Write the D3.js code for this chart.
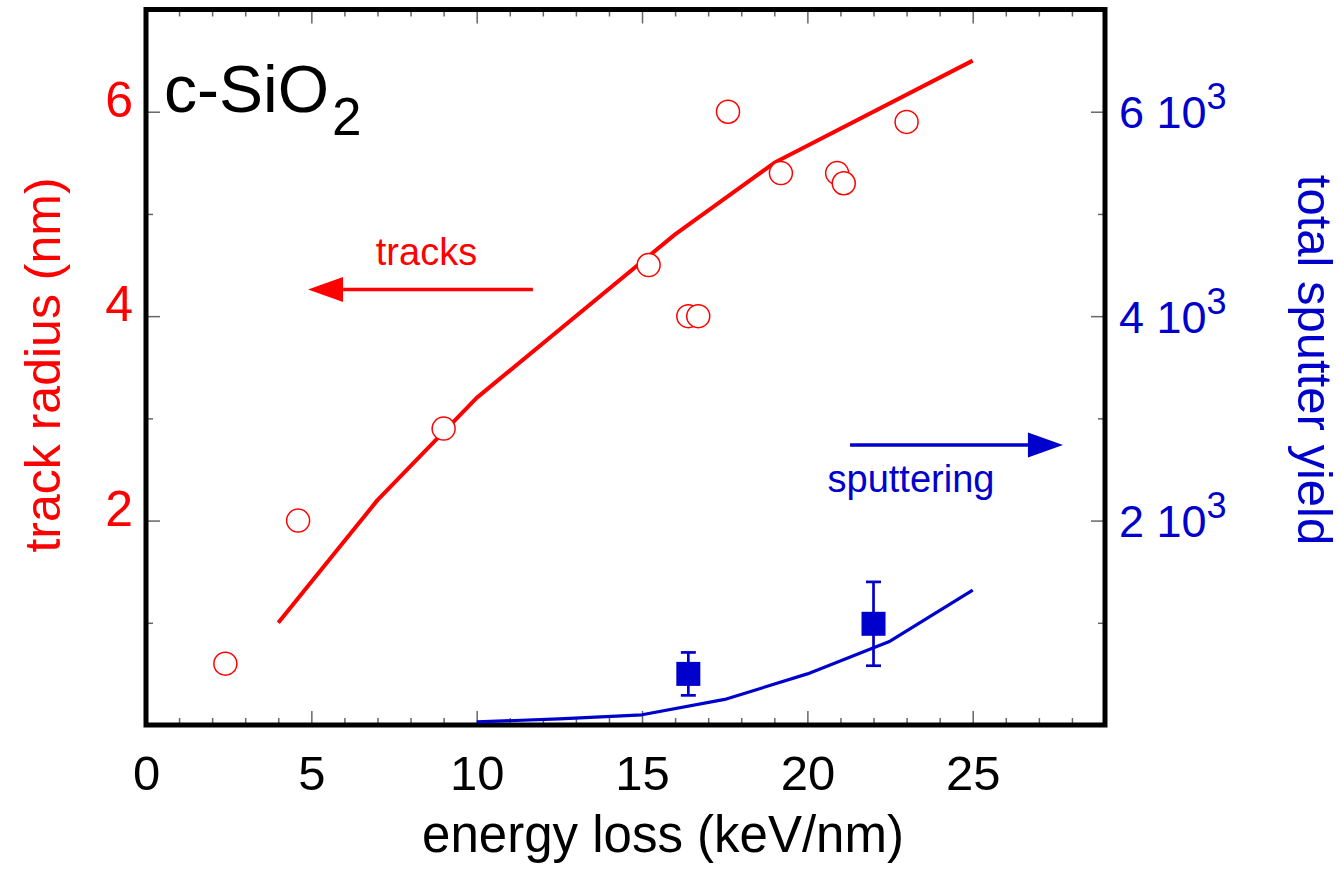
<!DOCTYPE html>
<html>
<head>
<meta charset="utf-8">
<script src="https://cdn.jsdelivr.net/npm/d3@7"></script>
<style>
  html, body { margin: 0; padding: 0; background: #fff; }
  svg { display: block; font-family: "Liberation Sans", Arial, Helvetica, sans-serif; }
  .tick line { stroke: #666; stroke-width: 1.5; }
  .domain { display: none; }
</style>
</head>
<body>
<svg id="chart" width="1341" height="869"></svg>
<script>
// Track radius measurements (energy loss keV/nm, radius nm)
const trackLoss   = [2.4, 4.6, 9.0, 15.2, 16.4, 16.7, 17.6, 19.2, 20.9, 21.1, 23.0];
const trackRadius = [0.6, 2.0, 2.9, 4.5, 4.0, 4.0, 6.0, 5.4, 5.4, 5.3, 5.9];

// Calculated track radius curve
const trackCalcLoss   = [4, 7, 10, 16, 19, 25];
const trackCalcRadius = [1.0, 2.2, 3.2, 4.8, 5.5, 6.5];

// Calculated total sputter yield curve
const sputCalcLoss  = [10, 12.5, 15, 17.5, 20, 22.5, 25];
const sputCalcYield = [30, 60, 100, 250, 500, 820, 1320];

// Measured sputter yields with error bars
const sputLoss  = [16.4, 22.0];
const sputYield = [500, 990];
const sputErr   = [210, 410];

// Axis ticks
const xMajorTicks = [0, 5, 10, 15, 20, 25];
const xMinorTicks = d3.range(1, 29).filter(v => v % 5 !== 0);
const yLeftMajor  = [2, 4, 6];
const yLeftMinor  = [1, 3, 5];
const yRightMajor = [2000, 4000, 6000];
const yRightMinor = [1000, 3000, 5000];

const RED = "#ff0000";
const BLUE = "#0000cc";

const svg = d3.select("#chart");
const L = 146, R = 1105, T = 9.5, B = 725;

const x  = d3.scaleLinear().domain([0, 29]).range([L, R]);
const yL = d3.scaleLinear().domain([0, 7]).range([B, T]);
const yR = d3.scaleLinear().domain([0, 7000]).range([B, T]);

// ---- axes (ticks point inward) ----
const gBottom = svg.append("g").attr("transform", `translate(0,${B})`);
const gBottomMajor = gBottom.append("g")
  .call(d3.axisBottom(x).tickValues(xMajorTicks).tickSize(-14).tickPadding(30).tickFormat(d3.format("d")));
gBottom.append("g").call(d3.axisBottom(x).tickValues(xMinorTicks).tickSize(-7).tickFormat(""));
gBottomMajor.selectAll("text").attr("font-size", 49).attr("fill", "#000");
gBottom.selectAll("g").attr("font-family", null);

const gTop = svg.append("g").attr("transform", `translate(0,${T})`);
gTop.append("g").call(d3.axisTop(x).tickValues(xMajorTicks).tickSize(-14).tickFormat(""));
gTop.append("g").call(d3.axisTop(x).tickValues(xMinorTicks).tickSize(-7).tickFormat(""));

const gLeft = svg.append("g").attr("transform", `translate(${L},0)`);
const gLeftMajor = gLeft.append("g")
  .call(d3.axisLeft(yL).tickValues(yLeftMajor).tickSize(-14).tickPadding(13).tickFormat(d3.format("d")));
gLeft.append("g").call(d3.axisLeft(yL).tickValues(yLeftMinor).tickSize(-7).tickFormat(""));
gLeftMajor.attr("font-family", null);
gLeftMajor.selectAll("text").attr("font-size", 50).attr("fill", RED).attr("dy", "0.09em");

const gRight = svg.append("g").attr("transform", `translate(${R},0)`);
const gRightMajor = gRight.append("g")
  .call(d3.axisRight(yR).tickValues(yRightMajor).tickSize(-14).tickPadding(14).tickFormat(d => d / 1000));
gRight.append("g").call(d3.axisRight(yR).tickValues(yRightMinor).tickSize(-7).tickFormat(""));
gRightMajor.attr("font-family", null);
gRightMajor.selectAll("text").attr("font-size", 45).attr("fill", BLUE).attr("dy", "0.36em")
  .each(function () {
    const t = d3.select(this);
    const m = t.text();
    t.text(null);
    t.append("tspan").text(m + " 10");
    t.append("tspan").attr("font-size", 36).attr("dy", -19).text("3");
  });

// ---- frame ----
svg.append("rect")
  .attr("x", L).attr("y", T).attr("width", R - L).attr("height", B - T)
  .attr("fill", "none").attr("stroke", "#000").attr("stroke-width", 5);

// ---- calculated curves ----
const redLine = d3.line().x((d, i) => x(trackCalcLoss[i])).y(d => yL(d));
svg.append("path").attr("d", redLine(trackCalcRadius))
  .attr("fill", "none").attr("stroke", RED).attr("stroke-width", 4).attr("stroke-linejoin", "round");

const blueLine = d3.line().x((d, i) => x(sputCalcLoss[i])).y(d => yR(d));
svg.append("path").attr("d", blueLine(sputCalcYield))
  .attr("fill", "none").attr("stroke", BLUE).attr("stroke-width", 3.2).attr("stroke-linejoin", "round");

// ---- track radius data (open circles) ----
svg.append("g").selectAll("circle").data(trackRadius).join("circle")
  .attr("cx", (d, i) => x(trackLoss[i])).attr("cy", d => yL(d)).attr("r", 11.5)
  .attr("fill", "#fff").attr("stroke", RED).attr("stroke-width", 1.5);

// ---- sputter data with error bars ----
const gErr = svg.append("g").attr("stroke", BLUE).attr("stroke-width", 2.7);
sputYield.forEach((v, i) => {
  const cx = x(sputLoss[i]);
  const top = yR(v + sputErr[i]), bot = yR(v - sputErr[i]);
  gErr.append("line").attr("x1", cx).attr("x2", cx).attr("y1", top).attr("y2", bot);
  gErr.append("line").attr("x1", cx - 7.5).attr("x2", cx + 7.5).attr("y1", top).attr("y2", top);
  gErr.append("line").attr("x1", cx - 7.5).attr("x2", cx + 7.5).attr("y1", bot).attr("y2", bot);
});
svg.append("g").selectAll("rect").data(sputYield).join("rect")
  .attr("x", (d, i) => x(sputLoss[i]) - 12).attr("y", d => yR(d) - 12)
  .attr("width", 24).attr("height", 24).attr("fill", BLUE);

// ---- annotations: arrows pointing to each axis ----
function arrow(x0, x1, xTip, yv, color) {
  const yy = yL(yv);
  svg.append("line").attr("x1", x(x0)).attr("x2", x(x1)).attr("y1", yy).attr("y2", yy)
    .attr("stroke", color).attr("stroke-width", 3.5);
  const b = x(x1), t = x(xTip);
  svg.append("path").attr("d", `M${t},${yy}L${b},${yy - 12.5}L${b},${yy + 12.5}Z`).attr("fill", color);
}
arrow(11.7, 5.96, 4.9, 4.26, RED);
arrow(21.29, 26.67, 27.73, 2.74, BLUE);

svg.append("text").attr("x", 426.5).attr("y", 265).attr("text-anchor", "middle")
  .attr("font-size", 38).attr("fill", RED).text("tracks");
svg.append("text").attr("x", 911).attr("y", 492).attr("text-anchor", "middle")
  .attr("font-size", 38).attr("fill", BLUE).text("sputtering");

// ---- material label ----
const mat = svg.append("text").attr("x", 164).attr("y", 112).attr("font-size", 66).attr("fill", "#000");
mat.append("tspan").text("c-SiO");
mat.append("tspan").attr("font-size", 53).attr("dx", 3).attr("dy", 23).text("2");

// ---- axis titles ----
svg.append("text").attr("x", 663).attr("y", 852).attr("text-anchor", "middle")
  .attr("font-size", 51).attr("fill", "#000").text("energy loss (keV/nm)");
svg.append("text").attr("transform", "translate(60,365) rotate(-90)").attr("text-anchor", "middle")
  .attr("font-size", 50).attr("fill", RED).text("track radius (nm)");
svg.append("text").attr("transform", "translate(1298,360) rotate(90)").attr("text-anchor", "middle")
  .attr("font-size", 49).attr("fill", BLUE).text("total sputter yield");
</script>
</body>
</html>
